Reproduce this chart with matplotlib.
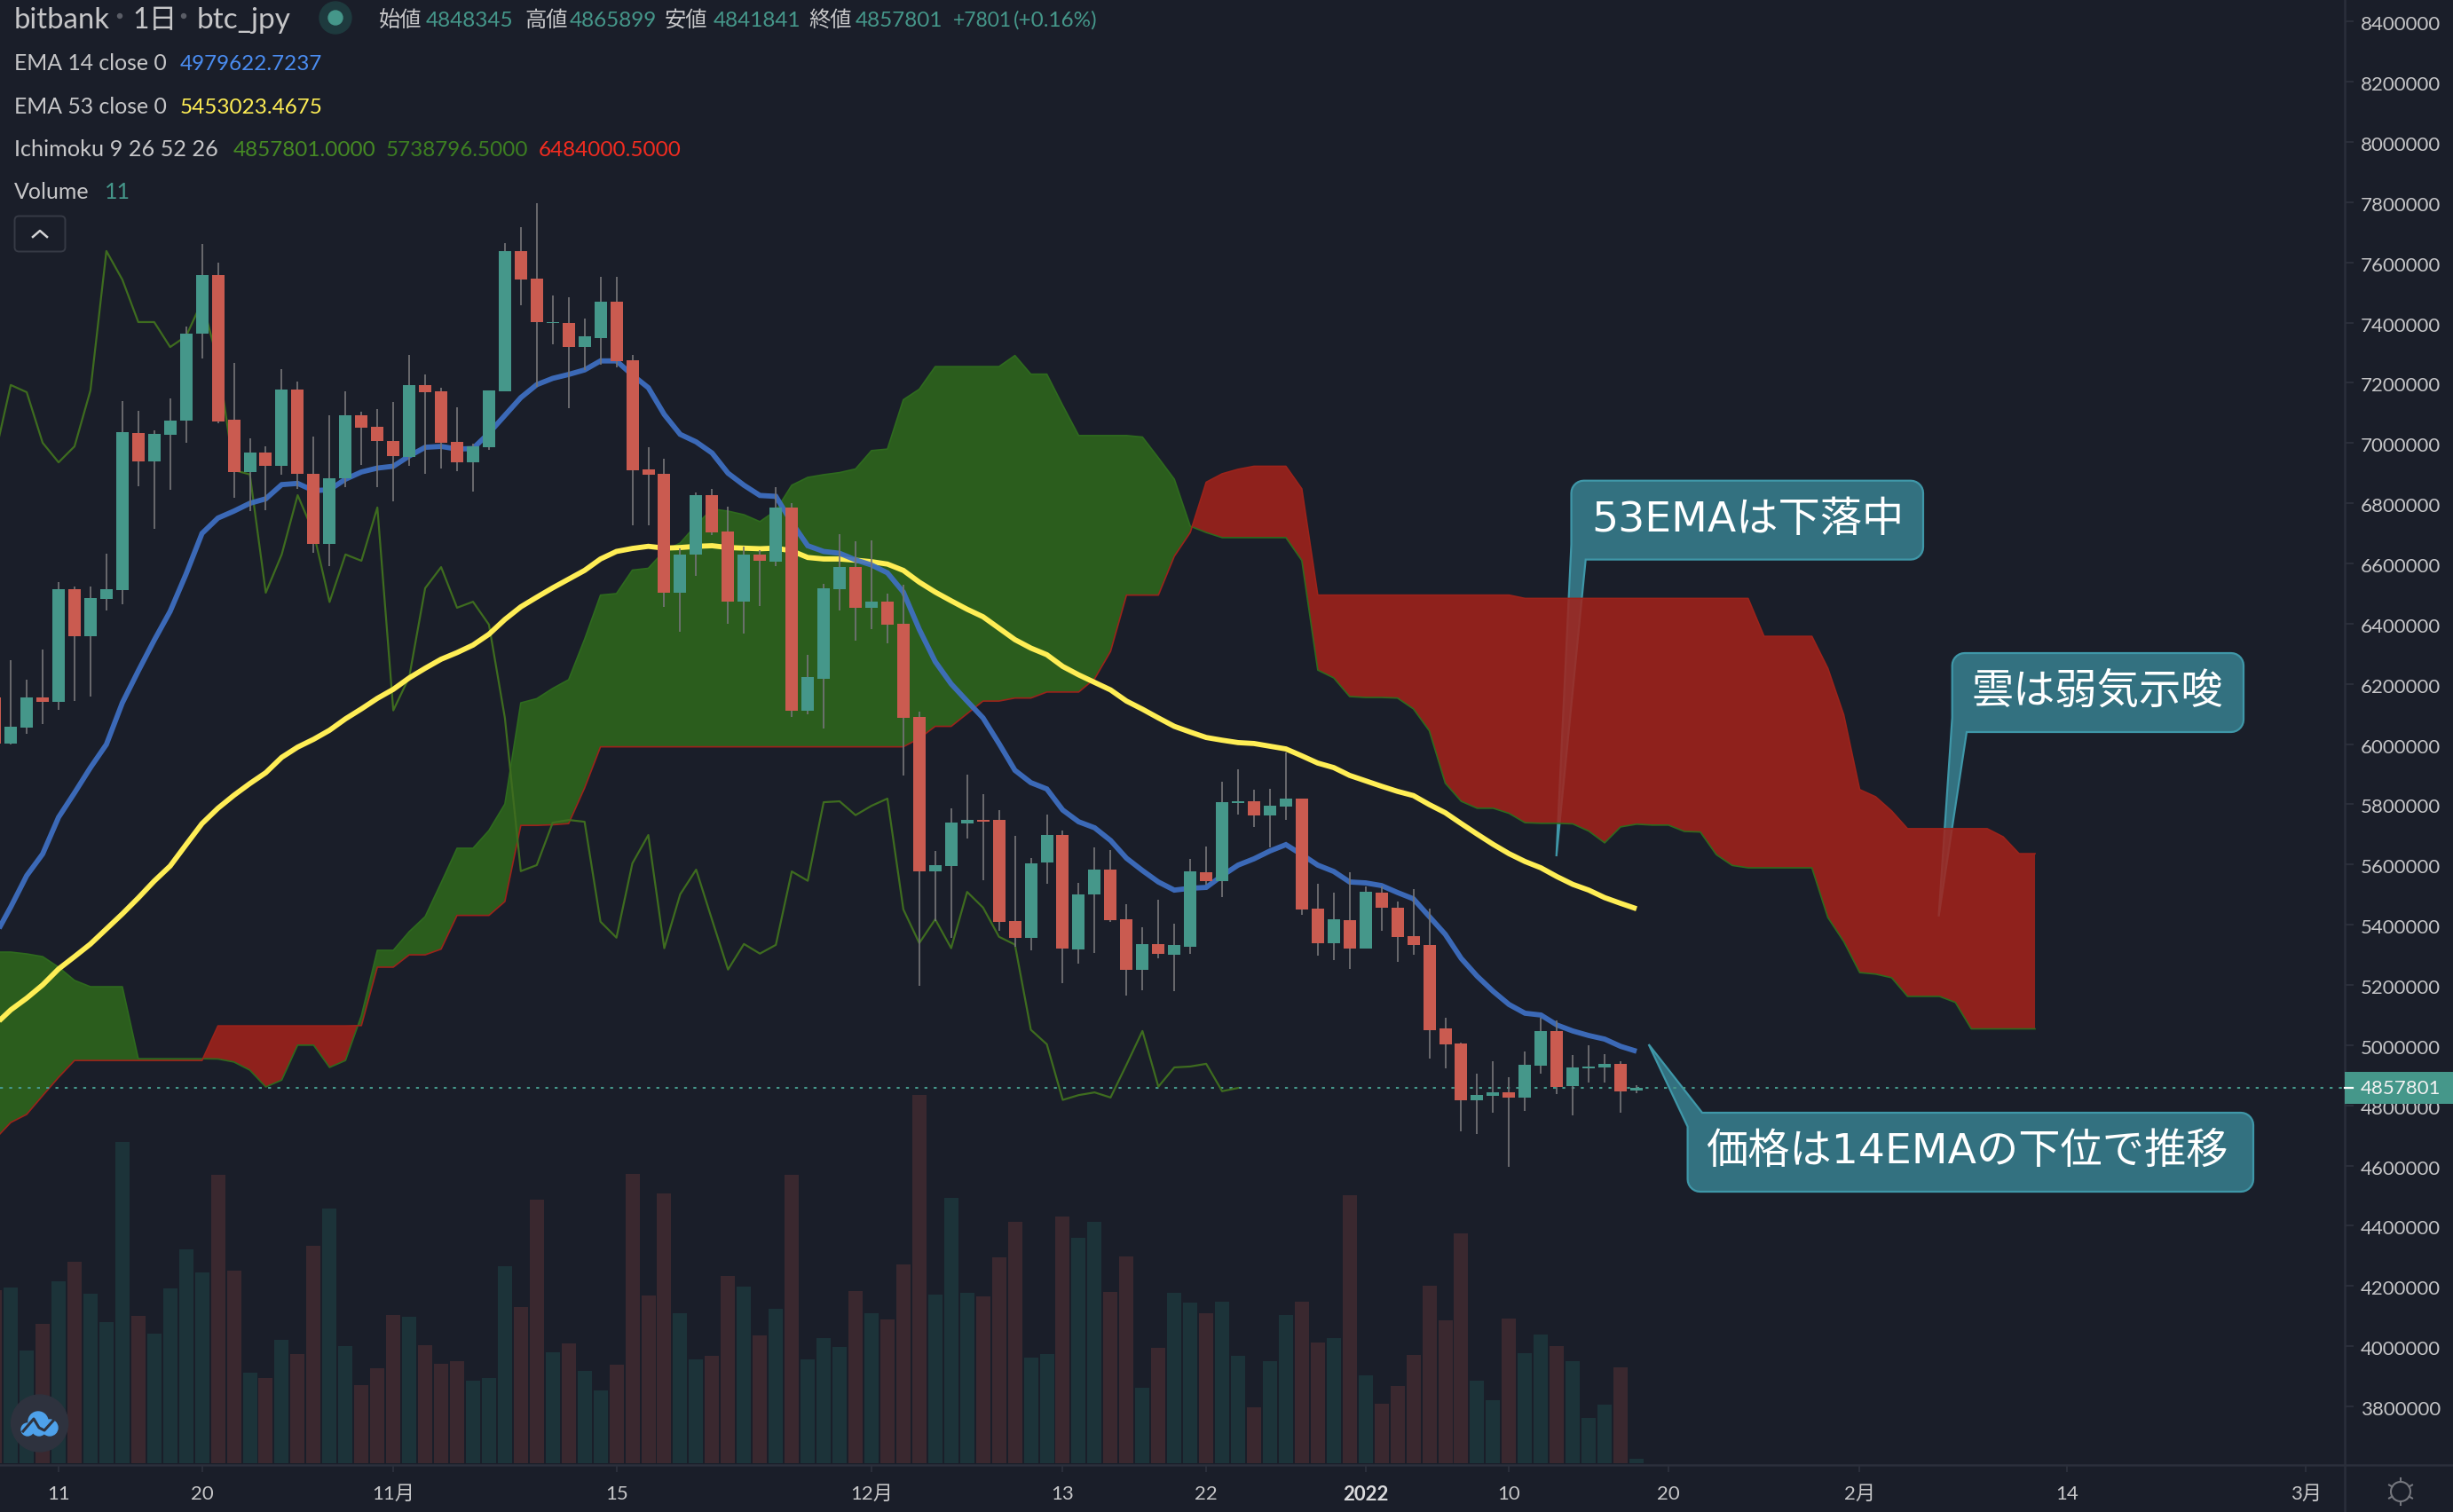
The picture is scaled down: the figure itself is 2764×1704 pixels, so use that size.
import numpy as np
import matplotlib
matplotlib.use("Agg")
import matplotlib.pyplot as plt
from matplotlib.patches import Polygon, Circle, FancyBboxPatch, Rectangle
from matplotlib.transforms import Affine2D, ScaledTranslation

plt.rcParams['font.family'] = ['Lato', 'Noto Sans CJK JP', 'DejaVu Sans']

# ---- data: prices in thousand JPY, day index 0 = 2021-10-11 ----
FIRST_DAY = -4
OPEN = [6154,6002,6055,6154,6139,6515,6357,6482,6512,7033,6938,7028,7075,7364,7558,7078,6904,6970,6924,7178,
        6898,6665,6883,7092,7054,7007,6955,7193,7171,7004,6936,6986,7172,7638,7546,7399,7400,7319,7350,7470,
        7275,6913,6898,6503,6630,6827,6706,6472,6630,6606,6786,6112,6217,6515,6588,6453,6473,6400,6090,5578,
        5596,5737,5748,5748,5412,5357,5608,5698,5319,5502,5583,5418,5251,5336,5301,5328,5574,5546,5805,5810,
        5764,5793,5819,5453,5339,5415,5322,5507,5456,5362,5333,5056,5005,4818,4832,4843,4826,4933,5047,4865,
        4924,4927,4938,4848.345]
HIGH = [6200,6279,6214,6314,6538,6524,6524,6633,7140,7107,7042,7148,7387,7661,7599,7266,7016,6989,7246,7204,
        7022,7092,7172,7104,7113,7137,7293,7228,7185,7120,6998,7175,7664,7717,7797,7490,7484,7415,7552,7552,
        7293,6986,6948,6650,6837,6848,6789,6655,6644,6854,6801,6297,6532,6697,6674,6677,6500,6529,6108,5645,
        5787,5899,5834,5781,5695,5622,5766,5713,5539,5657,5648,5468,5392,5483,5403,5619,5660,5875,5916,5848,
        5851,5973,5819,5536,5507,5574,5527,5527,5477,5518,5453,5091,5008,4905,4947,4893,4979,5091,5082,4967,
        5000,4970,4947,4865.899]
LOW = [5990,5999,6033,6067,6114,6143,6159,6444,6466,6857,6716,6846,7001,7281,7066,6818,6774,6777,6895,6848,
       6636,6591,6854,6927,6854,6806,6924,6898,6916,6907,6839,6977,7172,7458,7187,7328,7116,7243,7260,7252,
       6728,6728,6456,6372,6560,6693,6401,6368,6460,6591,6090,6099,6052,6444,6344,6382,6335,5896,5198,5412,
       5357,5687,5549,5381,5328,5316,5537,5207,5272,5307,5410,5166,5183,5289,5180,5304,5534,5493,5767,5726,
       5657,5749,5434,5298,5283,5254,5322,5381,5278,5300,4956,4924,4714,4706,4776,4596,4782,4906,4838,4768,
       4877,4877,4776,4841.841]
CLOSE = [6002,6058,6154,6139,6515,6357,6485,6515,7036,6938,7031,7076,7364,7558,7072,6904,6970,6924,7178,6898,
         6665,6883,7092,7051,7007,6957,7193,7169,7001,6936,6989,7175,7638,7543,7402,7402,7319,7355,7470,7272,
         6910,6896,6503,6630,6827,6703,6472,6630,6609,6786,6112,6223,6518,6588,6453,6473,6397,6087,5578,5598,
         5739,5748,5742,5410,5357,5604,5698,5322,5501,5583,5416,5251,5336,5304,5333,5577,5546,5807,5810,5764,
         5795,5819,5451,5339,5418,5322,5509,5457,5360,5334,5051,5003,4818,4834,4843,4826,4935,5047,4862,4926,
         4929,4938,4847,4857.801]
VOLUME = [429,436,280,345,451,499,420,350,796,365,321,433,530,473,716,477,224,211,306,271,
          539,631,290,194,235,367,363,293,246,253,205,211,488,387,653,275,297,229,180,244,
          717,416,669,372,257,266,464,438,317,383,716,257,310,288,427,372,356,493,913,418,
          658,422,414,510,598,262,271,612,559,598,425,513,187,286,422,398,372,400,266,139,
          253,367,400,299,310,664,218,147,191,268,440,354,570,205,156,359,273,319,290,253,
          112,145,238,11]
EMA14 = [5362,5459,5563,5635,5757,5838,5922,5999,6137,6243,6345,6441,6565,6700,6751,6774,6800,6815,6862,6866,
         6842,6845,6880,6904,6917,6923,6957,6986,6989,6980,6982,7033,7092,7151,7194,7215,7228,7243,7273,7273,
         7226,7184,7095,7029,7004,6967,6900,6860,6826,6823,6736,6659,6640,6634,6612,6595,6569,6505,6381,6274,
         6200,6143,6087,6002,5913,5872,5851,5781,5742,5722,5680,5621,5580,5542,5515,5521,5524,5563,5598,5619,
         5645,5666,5633,5598,5577,5542,5539,5530,5507,5486,5427,5368,5288,5229,5179,5135,5106,5100,5067,5047,
         5032,5020,4996,4979.6]
EMA53 = [5067,5117,5156,5200,5253,5294,5336,5386,5436,5489,5545,5595,5666,5736,5787,5830,5869,5905,5956,5990,
         6016,6046,6084,6117,6152,6182,6220,6252,6282,6304,6329,6365,6414,6456,6488,6519,6548,6577,6615,6640,
         6650,6657,6651,6653,6657,6659,6653,6651,6649,6651,6642,6620,6615,6615,6611,6606,6598,6577,6538,6505,
         6476,6448,6423,6385,6347,6319,6297,6258,6230,6205,6180,6143,6116,6087,6059,6040,6022,6013,6005,6002,
         5993,5984,5961,5937,5922,5896,5878,5860,5843,5829,5799,5772,5736,5701,5667,5636,5610,5589,5560,5534,
         5515,5490,5471,5453]
SPAN_A = [5309,5309,5303,5294,5259,5215,5194,5194,5194,4955,4955,4955,4955,4955,4954,4944,4917,4861,4884,5000,
          5000,4926,4949,5098,5315,5315,5377,5427,5539,5654,5654,5713,5801,6137,6151,6185,6214,6348,6495,6500,
          6578,6584,6642,6668,6728,6781,6774,6762,6739,6776,6860,6886,6895,6902,6914,6975,6980,7144,7179,7254,
          7254,7254,7254,7254,7291,7229,7229,7125,7025,7025,7025,7025,7020,6951,6880,6724,6703,6686,6686,6686,
          6686,6686,6610,6246,6220,6158,6155,6155,6153,6117,6044,5870,5810,5787,5787,5770,5739,5737,5737,5735,
          5711,5672,5725,5734,5731,5731,5710,5708,5633,5597,5589,5589,5589,5589,5589,5424,5344,5241,5236,5224,
          5162,5162,5162,5142,5054,5054,5054,5054,5054]
SPAN_B = [4687,4743,4770,4832,4893,4949,4949,4949,4949,4949,4949,4949,4949,4949,5064,5064,5064,5064,5064,5064,
          5064,5064,5064,5065,5259,5259,5300,5300,5319,5431,5431,5431,5477,5730,5730,5732,5736,5854,5991,5991,
          5991,5991,5991,5991,5991,5991,5991,5991,5991,5991,5991,5991,5991,5991,5991,5991,5991,5991,6019,6059,
          6059,6101,6143,6143,6153,6153,6173,6173,6173,6217,6308,6495,6495,6495,6624,6703,6870,6898,6913,6923,
          6923,6923,6848,6495,6495,6495,6495,6495,6495,6495,6495,6495,6495,6495,6495,6495,6484,6484,6484,6484,
          6484,6484,6484,6484,6484,6484,6484,6484,6484,6484,6484,6358,6358,6358,6358,6252,6097,5849,5825,5778,
          5719,5719,5719,5719,5719,5719,5692,5636,5636]
CHIKOU_SHIFT = 25
PRICE_TICKS = list(range(3800, 8600, 200))
DATE_TICK_DAYS = [0, 9, 21, 35, 51, 63, 72, 82, 91, 101, 113, 126, 141]
DATE_TICK_LABELS = ['11', '20', '11月', '15', '12月', '13', '22', '2022', '10', '20', '2月', '14', '3月']
LAST_PRICE = 4857801

# ---- style ----
W, H = 2764, 1704
PANE_R, PANE_B = 2642, 1651
BG = '#1A1E29'
UP, DOWN = '#45978A', '#CA5B50'
VOL_UP, VOL_DOWN = '#1C3339', '#3A282F'
WICK = '#737376'
TXT = '#C6C6C8'
AXIS = '#2B2F3B'
DAY_PX = 17.96

fig = plt.figure(figsize=(W / 100, H / 100), dpi=100, facecolor=BG)
rect = [0, 1 - PANE_B / H, PANE_R / W, PANE_B / H]
ax_v = fig.add_axes(rect, facecolor=BG, zorder=0)
ax = fig.add_axes(rect, zorder=1)
ax.patch.set_visible(False)
PX = Affine2D().scale(1, -1).translate(0, H)

days = np.arange(len(CLOSE)) + FIRST_DAY
cloud_days = np.arange(len(SPAN_A)) + FIRST_DAY
o, h, l, c = [np.array(a, float) * 1000 for a in (OPEN, HIGH, LOW, CLOSE)]
a_, b_ = np.array(SPAN_A, float) * 1000, np.array(SPAN_B, float) * 1000
up = c >= o

xlim = (-66 / DAY_PX, (PANE_R - 66) / DAY_PX)
for a in (ax, ax_v):
    a.set_xlim(*xlim)
ax.set_ylim(3605300, 8471900)
ax_v.set_ylim(-2 * 2.2, 1649 * 2.2)
ax_v.axis('off')

# volume
ax_v.bar(days, VOLUME, width=0.89, color=[VOL_UP if u else VOL_DOWN for u in up], linewidth=0)


def callout(x0, y0, x1, y1, tail, corner, r=14):
    def arc(cx, cy, a0, a1):
        t = np.radians(np.linspace(a0, a1, 8))
        return [(cx + r * np.cos(v), cy + r * np.sin(v)) for v in t]
    pts = []
    if corner == 'tl':
        pts += tail
    else:
        pts += arc(x0 + r, y0 + r, 180, 270)
    pts += arc(x1 - r, y0 + r, 270, 360)
    pts += arc(x1 - r, y1 - r, 0, 90)
    if corner == 'bl':
        pts += tail
    else:
        pts += arc(x0 + r, y1 - r, 90, 180)
    return Polygon(pts, closed=True, transform=PX, facecolor='#337180', edgecolor='#3F97A8',
                   linewidth=1.6, zorder=1.2, clip_on=False)


ax.add_patch(callout(1770.5, 541.7, 2167, 630.6,
                     [(1786.7, 630.6), (1753.7, 965), (1770.5, 613.8)], 'bl'))
ax.add_patch(callout(2199.7, 736, 2528, 825,
                     [(2216, 825), (2184.5, 1032.8), (2199.7, 809)], 'bl'))
ax.add_patch(callout(1901.6, 1254, 2539, 1343,
                     [(1901.6, 1269.7), (1857.7, 1177), (1918, 1254)], 'tl'))

# cloud
ax.fill_between(cloud_days, a_, b_, where=a_ >= b_, interpolate=True, color='#2F691C', alpha=0.85, lw=0, zorder=1.5)
ax.fill_between(cloud_days, a_, b_, where=a_ < b_, interpolate=True, color='#A4221A', alpha=0.85, lw=0, zorder=1.5)
ax.plot(cloud_days, a_, color='#2E6A1E', lw=1.2, zorder=1.6)
ax.plot(cloud_days, b_, color='#9B231B', lw=1.2, zorder=1.6)

# price line
ax.axhline(LAST_PRICE, color=UP, lw=1.5, dashes=(1.6, 3.4), zorder=1.7)

# chikou span: close shifted back
ax.plot(days[:-CHIKOU_SHIFT], c[CHIKOU_SHIFT:], color='#3E6C1F', lw=1.6, zorder=1.8)

# EMAs
ax.plot(days, np.array(EMA53, float) * 1000, color='#FFEE55', lw=4.2, zorder=2, solid_joinstyle='miter',
        solid_capstyle='butt')
ax.plot(days, np.array(EMA14, float) * 1000, color='#3F70C4', lw=4.2, alpha=0.92, zorder=2.1,
        solid_joinstyle='miter', solid_capstyle='butt')

# candles
ax.vlines(days, l, h, color=WICK, lw=1.25, zorder=3)
ax.bar(days, c - o, bottom=o, width=0.78, color=[UP if u else DOWN for u in up], linewidth=0, zorder=3.2)

# axes
for s in ('top', 'left'):
    ax.spines[s].set_visible(False)
for s in ('right', 'bottom'):
    ax.spines[s].set_color(AXIS)
    ax.spines[s].set_linewidth(1.8)
ax.yaxis.tick_right()
ax.set_yticks([p * 1000 for p in PRICE_TICKS])
ax.set_yticklabels([str(p * 1000) for p in PRICE_TICKS], fontsize=16, color=TXT)
ax.tick_params(axis='y', length=7, width=1.4, color=AXIS, pad=6)
shift = ScaledTranslation(0, -2 / 100, fig.dpi_scale_trans)
for t in ax.get_yticklabels():
    t.set_transform(t.get_transform() + shift)
ax.set_xticks(DATE_TICK_DAYS)
ax.set_xticklabels(DATE_TICK_LABELS, fontsize=16, color=TXT)
ax.tick_params(axis='x', length=6, width=1.4, color=AXIS, pad=10.5)
for t in ax.get_xticklabels():
    if t.get_text() == '2022':
        t.set_fontweight('bold')
        t.set_color('#DADADC')
ax.plot([PANE_R, W], [PANE_B, PANE_B], transform=PX, color=AXIS, lw=1.8, clip_on=False)
ax.plot([PANE_R, PANE_R], [PANE_B, H], transform=PX, color=AXIS, lw=1.8, clip_on=False)

# last price tag
ax.add_patch(Rectangle((PANE_R, 1208), W - PANE_R, 36, transform=PX, facecolor=UP, lw=0, zorder=10, clip_on=False))
ax.plot([PANE_R, PANE_R + 9], [1226, 1226], transform=PX, color='white', lw=1.6, zorder=11, clip_on=False)
ax.text(2660, 1227, '4857801', transform=PX, color='#F2F2F2', fontsize=16, va='center', ha='left', zorder=11,
        clip_on=False)


def label(x, y, s, color=TXT, size=18, **kw):
    return ax.text(x, y, s, transform=PX, color=color, fontsize=size, va='baseline', ha='left', zorder=12,
                   clip_on=False, **kw)


# legend rows
label(16, 32, 'bitbank', size=23.7)
label(149, 32, '1日', size=23)
label(222, 32, 'btc_jpy', size=24)
for x_ in (135, 207):
    ax.add_patch(Circle((x_, 18), 2.5, transform=PX, color='#5A5D66', zorder=12, clip_on=False))
ax.add_patch(Circle((378, 20), 18, transform=PX, color='#1E3A3E', zorder=12, clip_on=False))
ax.add_patch(Circle((378, 20), 8, transform=PX, color=UP, zorder=13, clip_on=False))
row1 = [(427, '始値', TXT), (480, '4848345', UP), (591, '高値', TXT), (642, '4865899', UP), (749, '安値', TXT),
        (804, '4841841', UP), (911, '終値', TXT), (964, '4857801', UP)]
for x_, s, col in row1:
    label(x_, 30, s, col, size=17.5)
label(1074, 30, '+7801', UP, size=16.5)
label(1142, 30, '(+0.16%)', UP, size=17.5)
label(16, 79, 'EMA 14 close 0', size=17.8)
label(203, 79, '4979622.7237', '#4A8CF0', size=17.5)
label(16, 128, 'EMA 53 close 0', size=17.8)
label(203, 128, '5453023.4675', '#FFEE55', size=17.5)
label(16, 176, 'Ichimoku 9 26 52 26', size=18.2)
label(263, 176, '4857801.0000', '#468A24', size=17.5)
label(435, 176, '5738796.5000', '#3D7F22', size=17.5)
label(607, 176, '6484000.5000', '#F22C20', size=17.5)
label(16, 224, 'Volume')
label(118, 224, '11', UP)

# collapse button
ax.add_patch(FancyBboxPatch((19, 246), 52, 35, boxstyle='round,pad=2.5,rounding_size=5', transform=PX,
                            facecolor=BG, edgecolor='#363A45', lw=1.4, zorder=12, clip_on=False))
ax.plot([37, 45, 53], [267, 260, 267], transform=PX, color='#D5D5D7', lw=1.8, zorder=13, clip_on=False)

# callout texts
for x_, y_, s in [(1793, 599, '53EMAは下落中'), (2221, 793, '雲は弱気示唆'), (1922, 1311, '価格は14EMAの下位で推移')]:
    ax.text(x_, y_, s, transform=PX, color='white', fontsize=34, va='baseline', ha='left', zorder=12, clip_on=False,
            family=['DejaVu Sans', 'Noto Sans CJK JP'])

# logo
ax.add_patch(Circle((44.6, 1604), 32, transform=PX, color='#2E323E', zorder=12, clip_on=False))
for cx, cy, r in [(31, 1611, 7), (43, 1602, 11), (56, 1609, 9), (44, 1610, 8)]:
    ax.add_patch(Circle((cx, cy), r, transform=PX, color='#4EA1EA', zorder=13, clip_on=False))
ax.plot([26, 38, 44, 50, 60], [1613, 1599, 1609, 1612, 1601], transform=PX, color='#2E323E', lw=2.2, zorder=14,
        clip_on=False)

# gear
gx, gy = 2705, 1681
ax.add_patch(Circle((gx, gy), 11, transform=PX, fill=False, edgecolor='#74767D', lw=1.5, zorder=12, clip_on=False))
for ang in np.radians(np.arange(0, 360, 60) + 30):
    ax.plot([gx + 11 * np.cos(ang), gx + 15 * np.cos(ang)], [gy + 11 * np.sin(ang), gy + 15 * np.sin(ang)],
            transform=PX, color='#74767D', lw=1.5, zorder=12, clip_on=False)

fig.savefig('out.png', dpi=100, facecolor=BG)
